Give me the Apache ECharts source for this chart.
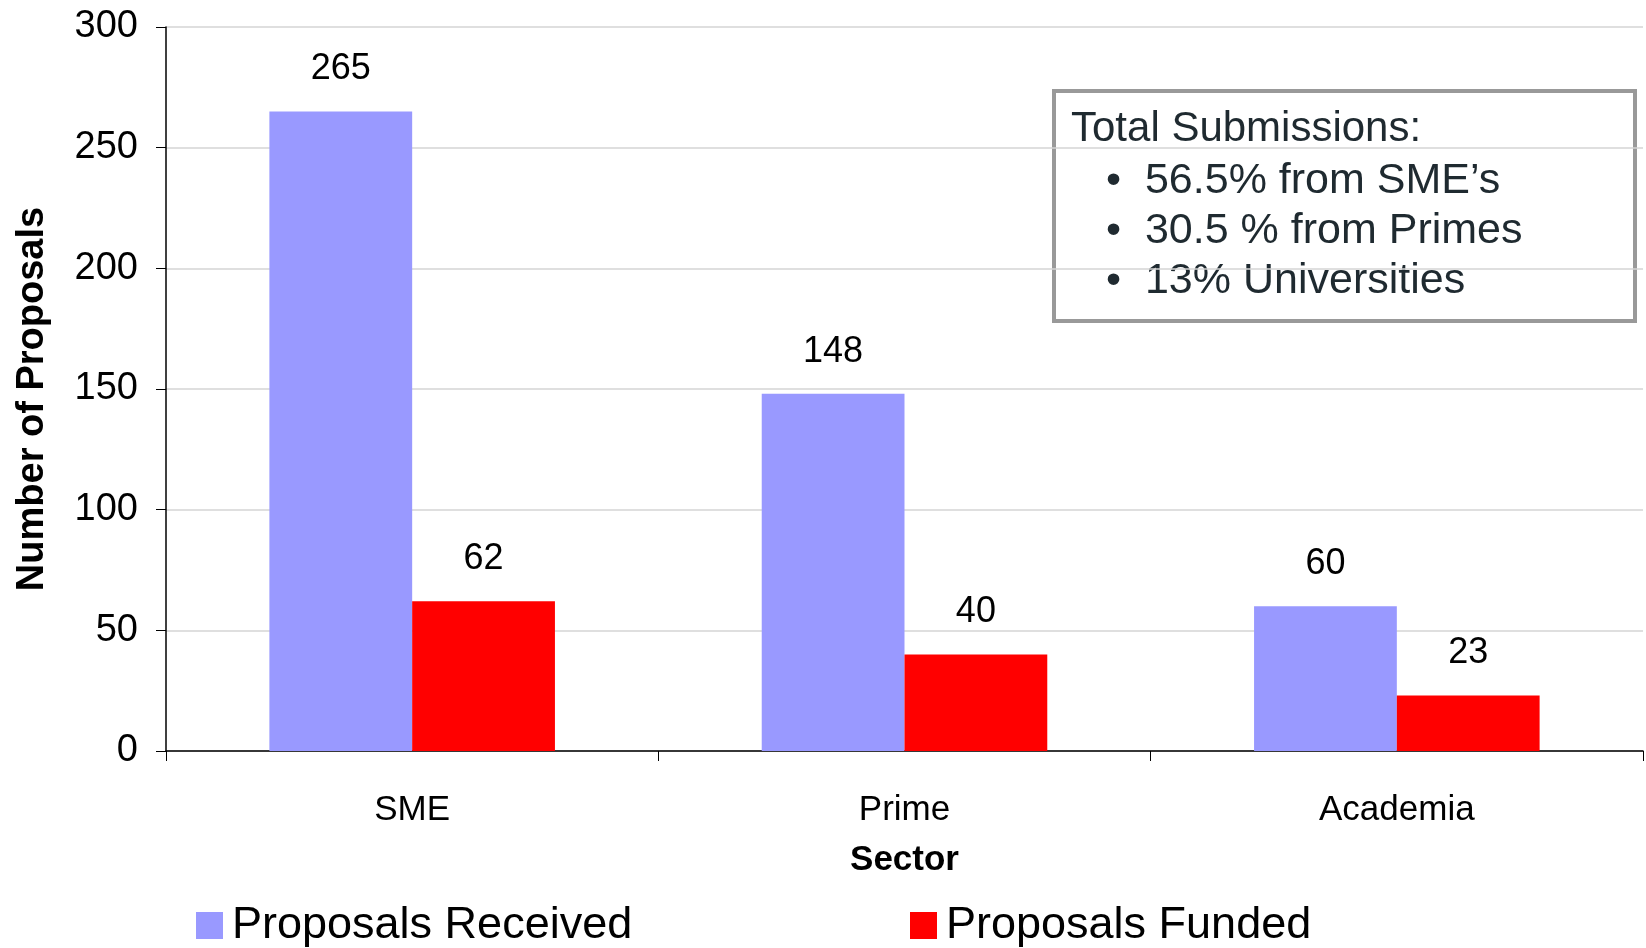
<!DOCTYPE html>
<html>
<head>
<meta charset="utf-8">
<script src="https://cdn.jsdelivr.net/npm/echarts@6/dist/echarts.min.js"></script>
<style>html,body{margin:0;padding:0;background:#fff}#c{width:1646px;height:948px}</style>
</head>
<body>
<div id="c"></div>
<script>
const categories = ['SME', 'Prime', 'Academia'];
const received = [265, 148, 60];
const funded = [62, 40, 23];
const yTicks = [0, 50, 100, 150, 200, 250, 300];
const noteTitle = 'Total Submissions:';
const noteItems = ['56.5% from SME\u2019s', '30.5 % from Primes', '13% Universities'];

const FONT = '"Liberation Sans", Arial, sans-serif';
const chart = echarts.init(document.getElementById('c'));
chart.setOption({
  backgroundColor: '#fff',
  animation: false,
  textStyle: { fontFamily: FONT },
  grid: { left: 166, right: 3, top: 27, bottom: 197 },
  legend: [
    { data: ['Proposals Received'], icon: 'rect', left: 191, top: 898, itemWidth: 27, itemHeight: 27, itemGap: 0,
      textStyle: { fontSize: 45, color: '#000', fontFamily: FONT, padding: [0, 0, 0, 4] } },
    { data: ['Proposals Funded'], icon: 'rect', left: 905, top: 898, itemWidth: 27, itemHeight: 27, itemGap: 0,
      textStyle: { fontSize: 45, color: '#000', fontFamily: FONT, padding: [0, 0, 0, 4] } }
  ],
  xAxis: {
    type: 'category',
    data: categories,
    name: 'Sector',
    nameLocation: 'middle',
    nameGap: 92,
    nameTextStyle: { fontSize: 35, fontWeight: 'bold', color: '#000' },
    axisLine: { lineStyle: { color: '#000', width: 1.5 } },
    axisTick: { show: true, length: 10, lineStyle: { color: '#000' } },
    axisLabel: { fontSize: 35, color: '#000', margin: 42 }
  },
  yAxis: {
    type: 'value',
    min: yTicks[0],
    max: yTicks[yTicks.length - 1],
    interval: 50,
    name: 'Number of Proposals',
    nameLocation: 'middle',
    nameGap: 114,
    nameRotate: 90,
    nameTextStyle: { fontSize: 38, fontWeight: 'bold', color: '#000', padding: [0, 20, 0, 0] },
    axisLine: { show: true, lineStyle: { color: '#000', width: 1.5 } },
    axisTick: { show: true, length: 10, lineStyle: { color: '#000' } },
    axisLabel: { fontSize: 38, color: '#000', margin: 28 },
    splitLine: { show: true, lineStyle: { color: '#d4d4d4', width: 1.5 } }
  },
  series: [
    {
      name: 'Proposals Received', type: 'bar', data: received,
      itemStyle: { color: '#9999ff' },
      barGap: '0%', barCategoryGap: '42%',
      label: { show: true, position: 'top', distance: 24, fontSize: 36, color: '#000' }
    },
    {
      name: 'Proposals Funded', type: 'bar', data: funded,
      itemStyle: { color: '#ff0000' },
      barGap: '0%', barCategoryGap: '42%',
      label: { show: true, position: 'top', distance: 24, fontSize: 36, color: '#000' }
    }
  ],
  graphic: [
    {
      type: 'rect', left: 1052, top: 89,
      shape: { width: 581, height: 230 },
      style: { fill: '#fff', stroke: '#999', lineWidth: 4 }
    },
    {
      type: 'text', left: 1071, top: 108,
      style: {
        text: noteTitle, fontSize: 42, fill: '#1f2a30', fontFamily: FONT
      }
    },
    {
      type: 'text', left: 1106, top: 156,
      style: {
        text: noteItems.map(s => '\u2022  ' + s).join('\n'),
        fontSize: 43, lineHeight: 50, fill: '#1f2a30', fontFamily: FONT
      }
    }
  ]
});
</script>
</body>
</html>
